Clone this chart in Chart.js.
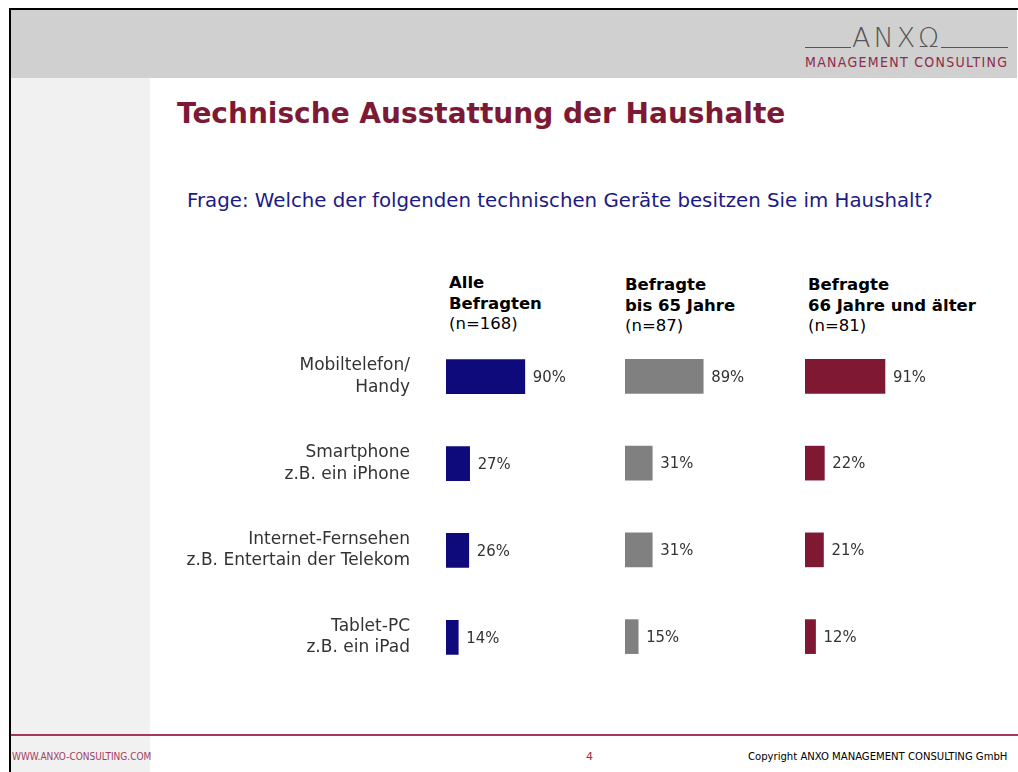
<!DOCTYPE html>
<html>
<head>
<meta charset="utf-8">
<script src="https://cdn.jsdelivr.net/npm/chart.js@4/dist/chart.umd.min.js"></script>
<style>
  body { margin:0; width:1018px; height:772px; background:#fff; position:relative; overflow:hidden;
         font-family:"DejaVu Sans",sans-serif; }
  .abs { position:absolute; }
  #frame { left:9px; top:8px; width:1009px; height:764px; border-left:2px solid #000; border-top:2px solid #000; }
  #head { left:11px; top:10px; width:1006px; height:68px; background:#d0d0d0; }
  #strip { left:11px; top:78px; width:139px; height:694px; background:#f1f1f1; }
  #foot { left:11px; top:734px; width:1007px; height:2px; background:#a13a58; }
  .grp { font-size:16.5px; color:#000; line-height:20.5px; }
  .cond { font-family:"DejaVu Sans Condensed","DejaVu Sans",sans-serif; }
  canvas { position:absolute; }
</style>
</head>
<body>
<div class="abs" id="frame"></div>
<div class="abs" id="head"></div>
<div class="abs" id="strip"></div>
<div class="abs" id="foot"></div>

<!-- logo -->
<div class="abs" style="left:805px;top:47px;width:46px;height:1px;background:#555"></div>
<div class="abs" style="left:941px;top:47px;width:67px;height:1px;background:#555"></div>
<div class="abs" style="left:852px;top:22px;font-weight:200;font-size:27px;color:#555;letter-spacing:3px">ANXΩ</div>
<div class="abs cond" style="left:805px;top:54px;font-size:14px;color:#8e2c4a;letter-spacing:1.3px">MANAGEMENT CONSULTING</div>

<div class="abs" style="left:177px;top:97px;font-size:28px;font-weight:bold;color:#7c1a35">Technische Ausstattung der Haushalte</div>
<div class="abs" style="left:187px;top:189px;font-size:19.8px;color:#1c1a85">Frage: Welche der folgenden technischen Geräte besitzen Sie im Haushalt?</div>

<div class="abs grp" style="left:449px;top:273px"><b>Alle<br>Befragten</b><br>(n=168)</div>
<div class="abs grp" style="left:625px;top:275px"><b>Befragte<br>bis 65 Jahre</b><br>(n=87)</div>
<div class="abs grp" style="left:808px;top:275px"><b>Befragte<br>66 Jahre und älter</b><br>(n=81)</div>

<canvas id="c1" width="576" height="347" style="left:160px;top:333px"></canvas>
<canvas id="c2" width="290" height="347" style="left:625px;top:333px"></canvas>
<canvas id="c3" width="290" height="347" style="left:805px;top:333px"></canvas>

<div class="abs cond" style="left:12px;top:751px;font-size:10px;color:#a04060">WWW.ANXO-CONSULTING.COM</div>
<div class="abs" style="left:586px;top:750px;font-size:11px;color:#a0304a">4</div>
<div class="abs cond" style="left:748px;top:750px;font-size:11.2px;color:#000">Copyright ANXO MANAGEMENT CONSULTING GmbH</div>

<script>
var categories = [
  ["Mobiltelefon/", "Handy"],
  ["Smartphone", "z.B. ein iPhone"],
  ["Internet-Fernsehen", "z.B. Entertain der Telekom"],
  ["Tablet-PC", "z.B. ein iPad"]
];
var alleBefragten = [90, 27, 26, 14];
var bis65 = [89, 31, 31, 15];
var ab66 = [91, 22, 21, 12];

var valueLabels = {
  id: 'valueLabels',
  afterDatasetsDraw(chart) {
    var ctx = chart.ctx;
    ctx.save();
    ctx.font = '16.5px "DejaVu Sans Condensed", "DejaVu Sans", sans-serif';
    ctx.fillStyle = '#333';
    ctx.textBaseline = 'middle';
    chart.getDatasetMeta(0).data.forEach(function (bar, i) {
      ctx.fillText(chart.data.datasets[0].data[i] + '%', bar.x + 8, bar.y + 1);
    });
    ctx.restore();
  }
};

function makeChart(id, values, color, showLabels) {
  return new Chart(document.getElementById(id), {
    type: 'bar',
    data: {
      labels: categories,
      datasets: [{ data: values, backgroundColor: color, barThickness: 34 }]
    },
    options: {
      indexAxis: 'y',
      responsive: false,
      animation: false,
      layout: { padding: 0 },
      plugins: { legend: { display: false }, tooltip: { enabled: false } },
      scales: {
        x: { display: false, min: 0, max: 330 },
        y: {
          display: showLabels,
          grid: { display: false, drawTicks: false },
          border: { display: false },
          ticks: {
            padding: 36,
            color: '#333',
            font: { family: '"DejaVu Sans", sans-serif', size: 17, lineHeight: 1.25 }
          }
        }
      }
    },
    plugins: [valueLabels]
  });
}

// first pass only measures how much room the label axis takes,
// then the canvas is sized so its plot matches the other panels (290 x 347 at x=446, y=333)
var c1 = document.getElementById('c1');
var probe = makeChart('c1', alleBefragten, '#0e0a7c', true);
var area = probe.chartArea;
var axisW = area.left, padTop = area.top, padBottom = 347 - area.bottom;
probe.destroy();
c1.width = Math.ceil(axisW) + 290;
c1.height = Math.ceil(347 + padTop + padBottom);
c1.style.left = Math.round(445 - axisW) + 'px';
c1.style.top = Math.round(333 - padTop) + 'px';

makeChart('c1', alleBefragten, '#0e0a7c', true);
makeChart('c2', bis65, '#808080', false);
makeChart('c3', ab66, '#7e1833', false);
</script>
</body>
</html>
